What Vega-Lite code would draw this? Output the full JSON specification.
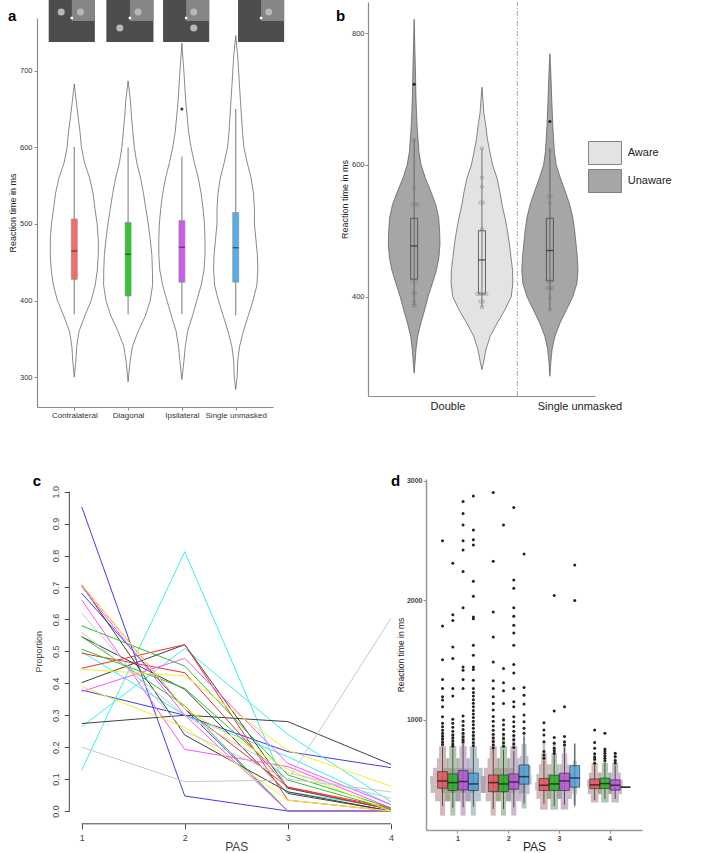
{
  "$schema": "https://vega.github.io/schema/vega-lite/v6.json",
  "background": "white",
  "width": 708,
  "height": 853,
  "autosize": {"type": "none"},
  "padding": 0,
  "resolve": {
    "scale": {"x": "independent", "y": "independent", "fill": "independent", "stroke": "independent", "size": "independent", "xOffset": "independent"},
    "axis": {"x": "independent", "y": "independent"},
    "legend": {"fill": "independent"}
  },
  "config": {
    "font": "Liberation Sans",
    "view": {"stroke": null},
    "axis": {"grid": false, "labelColor": "#333", "titleColor": "#222", "titleFontWeight": "normal", "domainColor": "#8c8c8c", "tickColor": "#8c8c8c"},
    "legend": {"labelColor": "#222", "titleColor": "#222", "titleFontWeight": "normal"}
  },
  "layer": [
    {
      "layer": [
        {
          "data": {"values": [
            {"c":"Contralateral","rt":683,"lo":1,"hi":1},
            {"c":"Contralateral","rt":660,"lo":0.964,"hi":1.036},
            {"c":"Contralateral","rt":640,"lo":0.929,"hi":1.071},
            {"c":"Contralateral","rt":620,"lo":0.893,"hi":1.107},
            {"c":"Contralateral","rt":600,"lo":0.866,"hi":1.134},
            {"c":"Contralateral","rt":580,"lo":0.811,"hi":1.189},
            {"c":"Contralateral","rt":560,"lo":0.714,"hi":1.286},
            {"c":"Contralateral","rt":540,"lo":0.652,"hi":1.348},
            {"c":"Contralateral","rt":520,"lo":0.616,"hi":1.384},
            {"c":"Contralateral","rt":500,"lo":0.575,"hi":1.425},
            {"c":"Contralateral","rt":480,"lo":0.554,"hi":1.446},
            {"c":"Contralateral","rt":460,"lo":0.554,"hi":1.446},
            {"c":"Contralateral","rt":440,"lo":0.571,"hi":1.429},
            {"c":"Contralateral","rt":420,"lo":0.612,"hi":1.388},
            {"c":"Contralateral","rt":400,"lo":0.687,"hi":1.313},
            {"c":"Contralateral","rt":380,"lo":0.804,"hi":1.196},
            {"c":"Contralateral","rt":360,"lo":0.911,"hi":1.089},
            {"c":"Contralateral","rt":340,"lo":0.955,"hi":1.045},
            {"c":"Contralateral","rt":320,"lo":0.973,"hi":1.027},
            {"c":"Contralateral","rt":300,"lo":1,"hi":1},
            {"c":"Diagonal","rt":687,"lo":2,"hi":2},
            {"c":"Diagonal","rt":660,"lo":1.955,"hi":2.045},
            {"c":"Diagonal","rt":640,"lo":1.937,"hi":2.063},
            {"c":"Diagonal","rt":620,"lo":1.911,"hi":2.089},
            {"c":"Diagonal","rt":600,"lo":1.884,"hi":2.116},
            {"c":"Diagonal","rt":580,"lo":1.839,"hi":2.161},
            {"c":"Diagonal","rt":560,"lo":1.768,"hi":2.232},
            {"c":"Diagonal","rt":540,"lo":1.714,"hi":2.286},
            {"c":"Diagonal","rt":520,"lo":1.67,"hi":2.33},
            {"c":"Diagonal","rt":500,"lo":1.625,"hi":2.375},
            {"c":"Diagonal","rt":480,"lo":1.589,"hi":2.411},
            {"c":"Diagonal","rt":460,"lo":1.559,"hi":2.441},
            {"c":"Diagonal","rt":440,"lo":1.548,"hi":2.452},
            {"c":"Diagonal","rt":420,"lo":1.545,"hi":2.455},
            {"c":"Diagonal","rt":400,"lo":1.589,"hi":2.411},
            {"c":"Diagonal","rt":380,"lo":1.679,"hi":2.321},
            {"c":"Diagonal","rt":360,"lo":1.812,"hi":2.188},
            {"c":"Diagonal","rt":340,"lo":1.92,"hi":2.08},
            {"c":"Diagonal","rt":320,"lo":1.964,"hi":2.036},
            {"c":"Diagonal","rt":294,"lo":2,"hi":2},
            {"c":"Ipsilateral","rt":736,"lo":3,"hi":3},
            {"c":"Ipsilateral","rt":700,"lo":2.964,"hi":3.036},
            {"c":"Ipsilateral","rt":680,"lo":2.946,"hi":3.054},
            {"c":"Ipsilateral","rt":660,"lo":2.929,"hi":3.071},
            {"c":"Ipsilateral","rt":640,"lo":2.902,"hi":3.098},
            {"c":"Ipsilateral","rt":620,"lo":2.875,"hi":3.125},
            {"c":"Ipsilateral","rt":600,"lo":2.83,"hi":3.17},
            {"c":"Ipsilateral","rt":580,"lo":2.768,"hi":3.232},
            {"c":"Ipsilateral","rt":560,"lo":2.696,"hi":3.304},
            {"c":"Ipsilateral","rt":540,"lo":2.643,"hi":3.357},
            {"c":"Ipsilateral","rt":520,"lo":2.607,"hi":3.393},
            {"c":"Ipsilateral","rt":500,"lo":2.58,"hi":3.42},
            {"c":"Ipsilateral","rt":480,"lo":2.571,"hi":3.429},
            {"c":"Ipsilateral","rt":460,"lo":2.571,"hi":3.429},
            {"c":"Ipsilateral","rt":440,"lo":2.589,"hi":3.411},
            {"c":"Ipsilateral","rt":420,"lo":2.643,"hi":3.357},
            {"c":"Ipsilateral","rt":400,"lo":2.723,"hi":3.277},
            {"c":"Ipsilateral","rt":380,"lo":2.804,"hi":3.196},
            {"c":"Ipsilateral","rt":360,"lo":2.893,"hi":3.107},
            {"c":"Ipsilateral","rt":340,"lo":2.937,"hi":3.063},
            {"c":"Ipsilateral","rt":320,"lo":2.964,"hi":3.036},
            {"c":"Ipsilateral","rt":297,"lo":3,"hi":3},
            {"c":"Single unmasked","rt":746,"lo":4,"hi":4},
            {"c":"Single unmasked","rt":720,"lo":3.964,"hi":4.036},
            {"c":"Single unmasked","rt":700,"lo":3.946,"hi":4.054},
            {"c":"Single unmasked","rt":680,"lo":3.929,"hi":4.071},
            {"c":"Single unmasked","rt":660,"lo":3.911,"hi":4.089},
            {"c":"Single unmasked","rt":640,"lo":3.893,"hi":4.107},
            {"c":"Single unmasked","rt":620,"lo":3.875,"hi":4.125},
            {"c":"Single unmasked","rt":600,"lo":3.848,"hi":4.152},
            {"c":"Single unmasked","rt":580,"lo":3.786,"hi":4.214},
            {"c":"Single unmasked","rt":560,"lo":3.714,"hi":4.286},
            {"c":"Single unmasked","rt":540,"lo":3.67,"hi":4.33},
            {"c":"Single unmasked","rt":520,"lo":3.652,"hi":4.348},
            {"c":"Single unmasked","rt":500,"lo":3.652,"hi":4.348},
            {"c":"Single unmasked","rt":480,"lo":3.625,"hi":4.375},
            {"c":"Single unmasked","rt":460,"lo":3.598,"hi":4.402},
            {"c":"Single unmasked","rt":440,"lo":3.589,"hi":4.411},
            {"c":"Single unmasked","rt":420,"lo":3.607,"hi":4.393},
            {"c":"Single unmasked","rt":400,"lo":3.679,"hi":4.321},
            {"c":"Single unmasked","rt":380,"lo":3.768,"hi":4.232},
            {"c":"Single unmasked","rt":360,"lo":3.857,"hi":4.143},
            {"c":"Single unmasked","rt":340,"lo":3.929,"hi":4.071},
            {"c":"Single unmasked","rt":320,"lo":3.964,"hi":4.036},
            {"c":"Single unmasked","rt":300,"lo":3.973,"hi":4.027},
            {"c":"Single unmasked","rt":284,"lo":4,"hi":4}
          ]},
          "mark": {"type": "area", "orient": "horizontal", "fill": "white", "stroke": "#6b6b6b", "strokeWidth": 0.8},
          "encoding": {
            "y": {"field": "rt", "type": "quantitative", "scale": {"domain": [261, 769], "range": [407, 18], "nice": false, "zero": false},
              "axis": {"orient": "left", "offset": -37, "values": [300, 400, 500, 600, 700], "title": "Reaction time in ms", "titleFontSize": 9, "titlePadding": 2, "labelFontSize": 7.5, "tickSize": 3, "labelPadding": 2, "domainWidth": 1.2}},
            "x": {"field": "lo", "type": "quantitative", "scale": {"domain": [0.4, 4.6], "range": [37, 273], "nice": false, "zero": false},
              "axis": {"orient": "bottom", "offset": -446, "values": [1, 2, 3, 4], "labelExpr": "['', 'Contralateral', 'Diagonal', 'Ipsilateral', 'Single unmasked'][datum.value]", "title": null, "tickSize": 3, "labelFontSize": 8, "labelPadding": 1, "domainWidth": 1.2}},
            "x2": {"field": "hi"},
            "detail": {"field": "c"}
          }
        },
        {
          "data": {"values": [
            {"cond":"Contralateral","pos":1,"wlo":382,"q1":427.7,"med":464.7,"q3":506.5,"whi":600.6},
            {"cond":"Diagonal","pos":2,"wlo":382,"q1":405.9,"med":460.4,"q3":502,"whi":600},
            {"cond":"Ipsilateral","pos":3,"wlo":382,"q1":423.9,"med":469.5,"q3":504.4,"whi":588},
            {"cond":"Single unmasked","pos":4,"wlo":380.7,"q1":424,"med":469,"q3":515,"whi":650}
          ]},
          "layer": [
            {
              "mark": {"type": "rule", "stroke": "#8f8f8f", "strokeWidth": 1.2},
              "encoding": {"x": {"field": "pos", "type": "quantitative"}, "y": {"field": "wlo", "type": "quantitative"}, "y2": {"field": "whi"}}
            },
            {
              "mark": {"type": "bar", "orient": "vertical", "size": 6, "stroke": "#8a8a8a", "strokeWidth": 0.6},
              "encoding": {
                "x": {"field": "pos", "type": "quantitative"},
                "y": {"field": "q1", "type": "quantitative"},
                "y2": {"field": "q3"},
                "fill": {"field": "cond", "type": "nominal", "scale": {"domain": ["Contralateral", "Diagonal", "Ipsilateral", "Single unmasked"], "range": ["#F86A6A", "#33C433", "#CC5BEE", "#55AEE5"]}, "legend": null}
              }
            },
            {
              "mark": {"type": "tick", "orient": "horizontal", "size": 6, "thickness": 1.4, "color": "#333"},
              "encoding": {"x": {"field": "pos", "type": "quantitative"}, "y": {"field": "med", "type": "quantitative"}}
            }
          ]
        },
        {
          "data": {"values": [{"pos": 3, "rt": 650}]},
          "mark": {"type": "point", "filled": true, "size": 9, "color": "#333", "opacity": 1},
          "encoding": {"x": {"field": "pos", "type": "quantitative"}, "y": {"field": "rt", "type": "quantitative"}}
        },
        {
          "data": {"values": [{"x0":0.525,"x1":1.382},{"x0":1.596,"x1":2.471},{"x0":2.65,"x1":3.507},{"x0":4.043,"x1":4.9}]},
          "mark": {"type": "rect", "fill": "#4d4d4d"},
          "encoding": {
            "x": {"field": "x0", "type": "quantitative", "scale": {"domain": [0.4, 4.6], "range": [37, 273], "nice": false, "zero": false}},
            "x2": {"field": "x1"},
            "y": {"datum": 737.7, "scale": {"domain": [261, 769], "range": [407, 18], "nice": false, "zero": false}},
            "y2": {"datum": 792.5}
          }
        },
        {
          "data": {"values": [{"x0":0.954,"x1":1.382},{"x0":2.034,"x1":2.471},{"x0":3.079,"x1":3.507},{"x0":4.471,"x1":4.9}]},
          "mark": {"type": "rect", "fill": "#858585"},
          "encoding": {
            "x": {"field": "x0", "type": "quantitative", "scale": {"domain": [0.4, 4.6], "range": [37, 273], "nice": false, "zero": false}},
            "x2": {"field": "x1"},
            "y": {"datum": 765.1, "scale": {"domain": [261, 769], "range": [407, 18], "nice": false, "zero": false}},
            "y2": {"datum": 792.5}
          }
        },
        {
          "data": {"values": [{"x":0.757,"y":776.8},{"x":1.114,"y":776.8},{"x":1.846,"y":755.9},{"x":2.186,"y":776.8},{"x":3.221,"y":776.8},{"x":3.221,"y":755.9},{"x":4.614,"y":776.8}]},
          "mark": {"type": "point", "shape": "circle", "filled": true, "size": 50, "color": "#b8b8b8", "opacity": 1},
          "encoding": {
            "x": {"field": "x", "type": "quantitative", "scale": {"domain": [0.4, 4.6], "range": [37, 273], "nice": false, "zero": false}},
            "y": {"field": "y", "type": "quantitative", "scale": {"domain": [261, 769], "range": [407, 18], "nice": false, "zero": false}}
          }
        },
        {
          "data": {"values": [{"x":0.954,"y":769},{"x":2.034,"y":769},{"x":3.079,"y":769},{"x":4.471,"y":769}]},
          "mark": {"type": "point", "shape": "square", "filled": true, "size": 6, "color": "#ffffff", "opacity": 1},
          "encoding": {
            "x": {"field": "x", "type": "quantitative", "scale": {"domain": [0.4, 4.6], "range": [37, 273], "nice": false, "zero": false}},
            "y": {"field": "y", "type": "quantitative", "scale": {"domain": [261, 769], "range": [407, 18], "nice": false, "zero": false}}
          }
        },
        {
          "data": {"values": [{"t": "a", "x": -0.154, "y": 765}]},
          "mark": {"type": "text", "fontSize": 15, "fontWeight": "bold", "align": "center", "baseline": "alphabetic", "color": "#000"},
          "encoding": {
            "x": {"field": "x", "type": "quantitative", "scale": {"domain": [0.4, 4.6], "range": [37, 273], "nice": false, "zero": false}},
            "y": {"field": "y", "type": "quantitative", "scale": {"domain": [261, 769], "range": [407, 18], "nice": false, "zero": false}},
            "text": {"field": "t"}
          }
        }
      ]
    },
    {
      "layer": [
        {
          "data": {"values": [
            {"v":"du","aw":"Unaware","rt":821,"lo":0.747,"hi":0.747},
            {"v":"du","aw":"Unaware","rt":780,"lo":0.742,"hi":0.752},
            {"v":"du","aw":"Unaware","rt":740,"lo":0.737,"hi":0.757},
            {"v":"du","aw":"Unaware","rt":700,"lo":0.733,"hi":0.761},
            {"v":"du","aw":"Unaware","rt":660,"lo":0.725,"hi":0.769},
            {"v":"du","aw":"Unaware","rt":620,"lo":0.711,"hi":0.783},
            {"v":"du","aw":"Unaware","rt":600,"lo":0.694,"hi":0.8},
            {"v":"du","aw":"Unaware","rt":580,"lo":0.662,"hi":0.832},
            {"v":"du","aw":"Unaware","rt":560,"lo":0.621,"hi":0.873},
            {"v":"du","aw":"Unaware","rt":540,"lo":0.583,"hi":0.911},
            {"v":"du","aw":"Unaware","rt":520,"lo":0.561,"hi":0.933},
            {"v":"du","aw":"Unaware","rt":500,"lo":0.554,"hi":0.94},
            {"v":"du","aw":"Unaware","rt":480,"lo":0.551,"hi":0.943},
            {"v":"du","aw":"Unaware","rt":460,"lo":0.559,"hi":0.935},
            {"v":"du","aw":"Unaware","rt":440,"lo":0.578,"hi":0.916},
            {"v":"du","aw":"Unaware","rt":420,"lo":0.609,"hi":0.885},
            {"v":"du","aw":"Unaware","rt":400,"lo":0.641,"hi":0.853},
            {"v":"du","aw":"Unaware","rt":380,"lo":0.667,"hi":0.827},
            {"v":"du","aw":"Unaware","rt":360,"lo":0.696,"hi":0.798},
            {"v":"du","aw":"Unaware","rt":340,"lo":0.72,"hi":0.774},
            {"v":"du","aw":"Unaware","rt":320,"lo":0.733,"hi":0.761},
            {"v":"du","aw":"Unaware","rt":300,"lo":0.74,"hi":0.754},
            {"v":"du","aw":"Unaware","rt":284,"lo":0.747,"hi":0.747},
            {"v":"da","aw":"Aware","rt":718,"lo":1.261,"hi":1.261},
            {"v":"da","aw":"Aware","rt":700,"lo":1.254,"hi":1.268},
            {"v":"da","aw":"Aware","rt":680,"lo":1.247,"hi":1.275},
            {"v":"da","aw":"Aware","rt":660,"lo":1.232,"hi":1.29},
            {"v":"da","aw":"Aware","rt":640,"lo":1.22,"hi":1.302},
            {"v":"da","aw":"Aware","rt":620,"lo":1.201,"hi":1.321},
            {"v":"da","aw":"Aware","rt":600,"lo":1.181,"hi":1.341},
            {"v":"da","aw":"Aware","rt":580,"lo":1.147,"hi":1.375},
            {"v":"da","aw":"Aware","rt":560,"lo":1.126,"hi":1.396},
            {"v":"da","aw":"Aware","rt":540,"lo":1.109,"hi":1.413},
            {"v":"da","aw":"Aware","rt":520,"lo":1.087,"hi":1.435},
            {"v":"da","aw":"Aware","rt":500,"lo":1.068,"hi":1.454},
            {"v":"da","aw":"Aware","rt":480,"lo":1.053,"hi":1.469},
            {"v":"da","aw":"Aware","rt":460,"lo":1.041,"hi":1.481},
            {"v":"da","aw":"Aware","rt":440,"lo":1.029,"hi":1.493},
            {"v":"da","aw":"Aware","rt":420,"lo":1.027,"hi":1.495},
            {"v":"da","aw":"Aware","rt":400,"lo":1.039,"hi":1.483},
            {"v":"da","aw":"Aware","rt":380,"lo":1.087,"hi":1.435},
            {"v":"da","aw":"Aware","rt":360,"lo":1.145,"hi":1.377},
            {"v":"da","aw":"Aware","rt":340,"lo":1.198,"hi":1.324},
            {"v":"da","aw":"Aware","rt":320,"lo":1.23,"hi":1.292},
            {"v":"da","aw":"Aware","rt":300,"lo":1.249,"hi":1.273},
            {"v":"da","aw":"Aware","rt":289,"lo":1.261,"hi":1.261},
            {"v":"su","aw":"Unaware","rt":769,"lo":1.776,"hi":1.776},
            {"v":"su","aw":"Unaware","rt":740,"lo":1.769,"hi":1.783},
            {"v":"su","aw":"Unaware","rt":700,"lo":1.762,"hi":1.79},
            {"v":"su","aw":"Unaware","rt":660,"lo":1.754,"hi":1.798},
            {"v":"su","aw":"Unaware","rt":620,"lo":1.742,"hi":1.81},
            {"v":"su","aw":"Unaware","rt":600,"lo":1.728,"hi":1.824},
            {"v":"su","aw":"Unaware","rt":580,"lo":1.696,"hi":1.856},
            {"v":"su","aw":"Unaware","rt":560,"lo":1.66,"hi":1.892},
            {"v":"su","aw":"Unaware","rt":540,"lo":1.626,"hi":1.926},
            {"v":"su","aw":"Unaware","rt":520,"lo":1.602,"hi":1.95},
            {"v":"su","aw":"Unaware","rt":500,"lo":1.588,"hi":1.964},
            {"v":"su","aw":"Unaware","rt":480,"lo":1.578,"hi":1.974},
            {"v":"su","aw":"Unaware","rt":460,"lo":1.568,"hi":1.984},
            {"v":"su","aw":"Unaware","rt":440,"lo":1.563,"hi":1.989},
            {"v":"su","aw":"Unaware","rt":420,"lo":1.571,"hi":1.981},
            {"v":"su","aw":"Unaware","rt":400,"lo":1.602,"hi":1.95},
            {"v":"su","aw":"Unaware","rt":380,"lo":1.65,"hi":1.902},
            {"v":"su","aw":"Unaware","rt":360,"lo":1.699,"hi":1.853},
            {"v":"su","aw":"Unaware","rt":340,"lo":1.737,"hi":1.815},
            {"v":"su","aw":"Unaware","rt":320,"lo":1.759,"hi":1.793},
            {"v":"su","aw":"Unaware","rt":300,"lo":1.769,"hi":1.783},
            {"v":"su","aw":"Unaware","rt":279,"lo":1.776,"hi":1.776}
          ]},
          "mark": {"type": "area", "orient": "horizontal", "stroke": "#555", "strokeWidth": 0.7, "opacity": 1},
          "encoding": {
            "y": {"field": "rt", "type": "quantitative", "scale": {"domain": [249, 847.5], "range": [396, 2], "nice": false, "zero": false},
              "axis": {"orient": "left", "offset": -368, "values": [400, 600, 800], "title": "Reaction time in ms", "titleFontSize": 9, "titlePadding": 2, "labelFontSize": 7.5, "tickSize": 3, "labelPadding": 1, "domainWidth": 1.2}},
            "x": {"field": "lo", "type": "quantitative", "scale": {"domain": [0.435, 2.08], "range": [368, 595], "nice": false, "zero": false},
              "axis": {"orient": "bottom", "offset": -457, "values": [1, 2], "labelExpr": "datum.value == 1 ? 'Double' : 'Single unmasked'", "title": null, "ticks": false, "labelFontSize": 11, "labelPadding": 4, "domainWidth": 1.2, "labelColor": "#222"}},
            "x2": {"field": "hi"},
            "detail": {"field": "v"},
            "fill": {"field": "aw", "type": "nominal", "scale": {"domain": ["Aware", "Unaware"], "range": ["#E3E3E3", "#A6A6A6"]},
              "legend": {"title": null, "orient": "none", "legendX": 593, "legendY": 141, "padding": 0, "symbolType": "M-1.43,-1H1.43V1H-1.43Z", "symbolSize": 529, "symbolStrokeColor": "#666", "symbolStrokeWidth": 0.8, "symbolOpacity": 1, "labelFontSize": 11, "labelOffset": 10.7, "rowPadding": 0}}
          }
        },
        {
          "data": {"values": [{}]},
          "mark": {"type": "rule", "stroke": "#8e9db0", "strokeWidth": 0.9, "strokeDash": [5, 2, 1, 2]},
          "encoding": {"x": {"datum": 1.529}, "y": {"datum": 249}, "y2": {"datum": 847.5}}
        },
        {
          "data": {"values": [
            {"pos":0.747,"wlo":387,"q1":426.4,"med":477,"q3":519,"whi":638},
            {"pos":1.261,"wlo":384,"q1":404,"med":455.7,"q3":500,"whi":625},
            {"pos":1.776,"wlo":380,"q1":424,"med":470,"q3":519,"whi":623}
          ]},
          "layer": [
            {
              "mark": {"type": "rule", "stroke": "#555", "strokeWidth": 0.8},
              "encoding": {"x": {"field": "pos", "type": "quantitative"}, "y": {"field": "wlo", "type": "quantitative"}, "y2": {"field": "whi"}}
            },
            {
              "mark": {"type": "bar", "orient": "vertical", "size": 7, "fill": "transparent", "stroke": "#444", "strokeWidth": 0.8},
              "encoding": {"x": {"field": "pos", "type": "quantitative"}, "y": {"field": "q1", "type": "quantitative"}, "y2": {"field": "q3"}}
            },
            {
              "mark": {"type": "tick", "orient": "horizontal", "size": 7, "thickness": 1.3, "color": "#222"},
              "encoding": {"x": {"field": "pos", "type": "quantitative"}, "y": {"field": "med", "type": "quantitative"}}
            }
          ]
        },
        {
          "data": {"values": [
            {"x":0.747,"rt":638},{"x":0.747,"rt":564.6},{"x":0.735,"rt":540},{"x":0.754,"rt":540},{"x":0.771,"rt":540},
            {"x":0.735,"rt":424},{"x":0.759,"rt":424},{"x":0.74,"rt":405},{"x":0.754,"rt":405},{"x":0.747,"rt":392.5},
            {"x":0.742,"rt":386},{"x":0.754,"rt":386},
            {"x":1.261,"rt":625.3},{"x":1.261,"rt":580.8},{"x":1.261,"rt":567},{"x":1.249,"rt":542.8},{"x":1.268,"rt":542.8},
            {"x":1.261,"rt":502.3},{"x":1.225,"rt":404},{"x":1.247,"rt":404},{"x":1.271,"rt":404},{"x":1.295,"rt":404},
            {"x":1.249,"rt":392.5},{"x":1.268,"rt":392.5},{"x":1.261,"rt":384},
            {"x":1.776,"rt":622.8},{"x":1.766,"rt":552},{"x":1.783,"rt":552},{"x":1.776,"rt":541.8},{"x":1.762,"rt":423},
            {"x":1.786,"rt":423},{"x":1.759,"rt":412.7},{"x":1.776,"rt":412.7},{"x":1.793,"rt":412.7},{"x":1.776,"rt":397.5},
            {"x":1.776,"rt":379.8}
          ]},
          "mark": {"type": "point", "shape": "circle", "filled": false, "size": 10, "stroke": "#777", "strokeWidth": 0.6, "opacity": 0.85},
          "encoding": {"x": {"field": "x", "type": "quantitative"}, "y": {"field": "rt", "type": "quantitative"}}
        },
        {
          "data": {"values": [{"x": 0.747, "rt": 722.5}, {"x": 1.776, "rt": 666}]},
          "mark": {"type": "point", "filled": true, "size": 10, "color": "#222", "opacity": 1},
          "encoding": {"x": {"field": "x", "type": "quantitative"}, "y": {"field": "rt", "type": "quantitative"}}
        },
        {
          "data": {"values": [{"t": "b", "x": 0.189, "y": 818.6}]},
          "mark": {"type": "text", "fontSize": 15, "fontWeight": "bold", "align": "center", "baseline": "alphabetic", "color": "#000"},
          "encoding": {
            "x": {"field": "x", "type": "quantitative", "scale": {"domain": [0.435, 2.08], "range": [368, 595], "nice": false, "zero": false}},
            "y": {"field": "y", "type": "quantitative", "scale": {"domain": [249, 847.5], "range": [396, 2], "nice": false, "zero": false}},
            "text": {"field": "t"}
          }
        }
      ]
    },
    {
      "layer": [
        {
          "data": {"values": [
            {"id":1,"col":"blue","pas":1,"p":0.953},{"id":1,"col":"blue","pas":2,"p":0.047},{"id":1,"col":"blue","pas":3,"p":0},{"id":1,"col":"blue","pas":4,"p":0},
            {"id":2,"col":"blue","pas":1,"p":0.379},{"id":2,"col":"blue","pas":2,"p":0.3},{"id":2,"col":"blue","pas":3,"p":0.186},{"id":2,"col":"blue","pas":4,"p":0.136},
            {"id":3,"col":"blue","pas":1,"p":0.682},{"id":3,"col":"blue","pas":2,"p":0.32},{"id":3,"col":"blue","pas":3,"p":0},{"id":3,"col":"blue","pas":4,"p":0},
            {"id":4,"col":"cyan","pas":1,"p":0.128},{"id":4,"col":"cyan","pas":2,"p":0.812},{"id":4,"col":"cyan","pas":3,"p":0.06},{"id":4,"col":"cyan","pas":4,"p":0.01},
            {"id":5,"col":"cyan","pas":1,"p":0.264},{"id":5,"col":"cyan","pas":2,"p":0.509},{"id":5,"col":"cyan","pas":3,"p":0.24},{"id":5,"col":"cyan","pas":4,"p":0.029},
            {"id":6,"col":"cyan","pas":1,"p":0.499},{"id":6,"col":"cyan","pas":2,"p":0.3},{"id":6,"col":"cyan","pas":3,"p":0.17},{"id":6,"col":"cyan","pas":4,"p":0.02},
            {"id":7,"col":"black","pas":1,"p":0.274},{"id":7,"col":"black","pas":2,"p":0.3},{"id":7,"col":"black","pas":3,"p":0.28},{"id":7,"col":"black","pas":4,"p":0.146},
            {"id":8,"col":"black","pas":1,"p":0.708},{"id":8,"col":"black","pas":2,"p":0.238},{"id":8,"col":"black","pas":3,"p":0.06},{"id":8,"col":"black","pas":4,"p":0},
            {"id":9,"col":"black","pas":1,"p":0.402},{"id":9,"col":"black","pas":2,"p":0.521},{"id":9,"col":"black","pas":3,"p":0.071},{"id":9,"col":"black","pas":4,"p":0.005},
            {"id":10,"col":"black","pas":1,"p":0.546},{"id":10,"col":"black","pas":2,"p":0.381},{"id":10,"col":"black","pas":3,"p":0.055},{"id":10,"col":"black","pas":4,"p":0},
            {"id":11,"col":"red","pas":1,"p":0.494},{"id":11,"col":"red","pas":2,"p":0.433},{"id":11,"col":"red","pas":3,"p":0.074},{"id":11,"col":"red","pas":4,"p":0.005},
            {"id":12,"col":"red","pas":1,"p":0.447},{"id":12,"col":"red","pas":2,"p":0.521},{"id":12,"col":"red","pas":3,"p":0.034},{"id":12,"col":"red","pas":4,"p":0},
            {"id":13,"col":"red","pas":1,"p":0.708},{"id":13,"col":"red","pas":2,"p":0.32},{"id":13,"col":"red","pas":3,"p":0.075},{"id":13,"col":"red","pas":4,"p":0.01},
            {"id":14,"col":"green","pas":1,"p":0.58},{"id":14,"col":"green","pas":2,"p":0.454},{"id":14,"col":"green","pas":3,"p":0.113},{"id":14,"col":"green","pas":4,"p":0.01},
            {"id":15,"col":"green","pas":1,"p":0.507},{"id":15,"col":"green","pas":2,"p":0.384},{"id":15,"col":"green","pas":3,"p":0.097},{"id":15,"col":"green","pas":4,"p":0.005},
            {"id":16,"col":"green","pas":1,"p":0.546},{"id":16,"col":"green","pas":2,"p":0.33},{"id":16,"col":"green","pas":3,"p":0},{"id":16,"col":"green","pas":4,"p":0},
            {"id":17,"col":"magenta","pas":1,"p":0.661},{"id":17,"col":"magenta","pas":2,"p":0.193},{"id":17,"col":"magenta","pas":3,"p":0.139},{"id":17,"col":"magenta","pas":4,"p":0.01},
            {"id":18,"col":"magenta","pas":1,"p":0.374},{"id":18,"col":"magenta","pas":2,"p":0.478},{"id":18,"col":"magenta","pas":3,"p":0.149},{"id":18,"col":"magenta","pas":4,"p":0.02},
            {"id":19,"col":"magenta","pas":1,"p":0.703},{"id":19,"col":"magenta","pas":2,"p":0.3},{"id":19,"col":"magenta","pas":3,"p":0},{"id":19,"col":"magenta","pas":4,"p":0},
            {"id":20,"col":"yellow","pas":1,"p":0.444},{"id":20,"col":"yellow","pas":2,"p":0.423},{"id":20,"col":"yellow","pas":3,"p":0.19},{"id":20,"col":"yellow","pas":4,"p":0.078},
            {"id":21,"col":"yellow","pas":1,"p":0.39},{"id":21,"col":"yellow","pas":2,"p":0.262},{"id":21,"col":"yellow","pas":3,"p":0.034},{"id":21,"col":"yellow","pas":4,"p":0},
            {"id":22,"col":"yellow","pas":1,"p":0.708},{"id":22,"col":"yellow","pas":2,"p":0.32},{"id":22,"col":"yellow","pas":3,"p":0.13},{"id":22,"col":"yellow","pas":4,"p":0},
            {"id":23,"col":"gray","pas":1,"p":0.2},{"id":23,"col":"gray","pas":2,"p":0.092},{"id":23,"col":"gray","pas":3,"p":0.097},{"id":23,"col":"gray","pas":4,"p":0.603},
            {"id":24,"col":"gray","pas":1,"p":0.619},{"id":24,"col":"gray","pas":2,"p":0.25},{"id":24,"col":"gray","pas":3,"p":0.1},{"id":24,"col":"gray","pas":4,"p":0.06},
            {"id":25,"col":"gray","pas":1,"p":0.56},{"id":25,"col":"gray","pas":2,"p":0.3},{"id":25,"col":"gray","pas":3,"p":0.12},{"id":25,"col":"gray","pas":4,"p":0.04}
          ]},
          "mark": {"type": "line", "strokeWidth": 1},
          "encoding": {
            "x": {"field": "pas", "type": "quantitative", "scale": {"domain": [0.88, 4.12], "range": [69.3, 403.3], "nice": false, "zero": false},
              "axis": {"orient": "bottom", "offset": -29.2, "values": [1, 2, 3, 4], "format": "d", "domain": false, "tickSize": 5, "tickColor": "#444", "labelColor": "#444", "labelFontSize": 9, "labelPadding": 5, "title": "PAS", "titleFontSize": 12, "titleY": 26.2, "titleBaseline": "alphabetic", "titleColor": "#444"}},
            "y": {"field": "p", "type": "quantitative", "scale": {"domain": [-0.04, 1.04], "range": [823.8, 478.9], "nice": false, "zero": false},
              "axis": {"orient": "left", "offset": -69.3, "values": [0, 0.1, 0.2, 0.3, 0.4, 0.5, 0.6, 0.7, 0.8, 0.9, 1], "format": ".1f", "labelOverlap": false, "domain": false, "tickSize": 5, "tickColor": "#444", "labelColor": "#444", "labelFontSize": 9, "labelAngle": -90, "labelAlign": "center", "labelBaseline": "bottom", "labelPadding": 4, "title": "Proportion", "titleFontSize": 9, "titlePadding": 8, "titleColor": "#444"}},
            "stroke": {"field": "col", "type": "nominal", "scale": {"domain": ["black", "red", "green", "blue", "cyan", "magenta", "yellow", "gray"], "range": ["#404040", "#F03030", "#30C030", "#3C3CF0", "#3CECEC", "#FF50FF", "#F2F030", "#C8C8C8"]}, "legend": null},
            "detail": {"field": "id"}
          }
        },
        {
          "data": {"values": [{}]},
          "mark": {"type": "rule", "stroke": "#444", "strokeWidth": 1},
          "encoding": {"x": {"datum": 1}, "x2": {"datum": 4}, "y": {"datum": -0.04}}
        },
        {
          "data": {"values": [{}]},
          "mark": {"type": "rule", "stroke": "#444", "strokeWidth": 1},
          "encoding": {"x": {"datum": 0.88}, "y": {"datum": 0}, "y2": {"datum": 1}}
        },
        {
          "data": {"values": [{"t": "c", "x": 0.567, "y": 1.018}, {"t": "d", "x": 4.044, "y": 1.018}]},
          "mark": {"type": "text", "fontSize": 15, "fontWeight": "bold", "align": "center", "baseline": "alphabetic", "color": "#000"},
          "encoding": {
            "x": {"field": "x", "type": "quantitative", "scale": {"domain": [0.88, 4.12], "range": [69.3, 403.3], "nice": false, "zero": false}},
            "y": {"field": "y", "type": "quantitative", "scale": {"domain": [-0.04, 1.04], "range": [823.8, 478.9], "nice": false, "zero": false}},
            "text": {"field": "t"}
          }
        }
      ]
    },
    {
      "layer": [
        {
          "data": {"values": [
            {"p":"1","c":"Contralateral","lo":200,"hi":320,"n":0.2},{"p":"1","c":"Contralateral","lo":320,"hi":390,"n":0.6},{"p":"1","c":"Contralateral","lo":390,"hi":460,"n":0.95},{"p":"1","c":"Contralateral","lo":460,"hi":530,"n":1},{"p":"1","c":"Contralateral","lo":530,"hi":600,"n":0.75},{"p":"1","c":"Contralateral","lo":600,"hi":680,"n":0.45},{"p":"1","c":"Contralateral","lo":680,"hi":780,"n":0.28},{"p":"1","c":"Contralateral","lo":780,"hi":890,"n":0.12},
            {"p":"1","c":"Diagonal","lo":200,"hi":320,"n":0.2},{"p":"1","c":"Diagonal","lo":320,"hi":390,"n":0.6},{"p":"1","c":"Diagonal","lo":390,"hi":460,"n":0.95},{"p":"1","c":"Diagonal","lo":460,"hi":530,"n":1},{"p":"1","c":"Diagonal","lo":530,"hi":600,"n":0.75},{"p":"1","c":"Diagonal","lo":600,"hi":680,"n":0.45},{"p":"1","c":"Diagonal","lo":680,"hi":780,"n":0.28},{"p":"1","c":"Diagonal","lo":780,"hi":890,"n":0.12},
            {"p":"1","c":"Ipsilateral","lo":200,"hi":320,"n":0.2},{"p":"1","c":"Ipsilateral","lo":320,"hi":390,"n":0.6},{"p":"1","c":"Ipsilateral","lo":390,"hi":460,"n":0.95},{"p":"1","c":"Ipsilateral","lo":460,"hi":530,"n":1},{"p":"1","c":"Ipsilateral","lo":530,"hi":600,"n":0.75},{"p":"1","c":"Ipsilateral","lo":600,"hi":680,"n":0.45},{"p":"1","c":"Ipsilateral","lo":680,"hi":780,"n":0.28},{"p":"1","c":"Ipsilateral","lo":780,"hi":890,"n":0.12},
            {"p":"1","c":"Single unmasked","lo":200,"hi":320,"n":0.2},{"p":"1","c":"Single unmasked","lo":320,"hi":390,"n":0.6},{"p":"1","c":"Single unmasked","lo":390,"hi":460,"n":0.95},{"p":"1","c":"Single unmasked","lo":460,"hi":530,"n":1},{"p":"1","c":"Single unmasked","lo":530,"hi":600,"n":0.75},{"p":"1","c":"Single unmasked","lo":600,"hi":680,"n":0.45},{"p":"1","c":"Single unmasked","lo":680,"hi":780,"n":0.28},{"p":"1","c":"Single unmasked","lo":780,"hi":890,"n":0.12},
            {"p":"2","c":"Contralateral","lo":200,"hi":320,"n":0.2},{"p":"2","c":"Contralateral","lo":320,"hi":390,"n":0.6},{"p":"2","c":"Contralateral","lo":390,"hi":460,"n":0.95},{"p":"2","c":"Contralateral","lo":460,"hi":530,"n":1},{"p":"2","c":"Contralateral","lo":530,"hi":600,"n":0.75},{"p":"2","c":"Contralateral","lo":600,"hi":680,"n":0.45},{"p":"2","c":"Contralateral","lo":680,"hi":780,"n":0.28},{"p":"2","c":"Contralateral","lo":780,"hi":880,"n":0.12},
            {"p":"2","c":"Diagonal","lo":200,"hi":320,"n":0.2},{"p":"2","c":"Diagonal","lo":320,"hi":390,"n":0.6},{"p":"2","c":"Diagonal","lo":390,"hi":460,"n":0.95},{"p":"2","c":"Diagonal","lo":460,"hi":530,"n":1},{"p":"2","c":"Diagonal","lo":530,"hi":600,"n":0.75},{"p":"2","c":"Diagonal","lo":600,"hi":680,"n":0.45},{"p":"2","c":"Diagonal","lo":680,"hi":780,"n":0.28},{"p":"2","c":"Diagonal","lo":780,"hi":880,"n":0.12},
            {"p":"2","c":"Ipsilateral","lo":200,"hi":320,"n":0.2},{"p":"2","c":"Ipsilateral","lo":320,"hi":390,"n":0.6},{"p":"2","c":"Ipsilateral","lo":390,"hi":460,"n":0.95},{"p":"2","c":"Ipsilateral","lo":460,"hi":530,"n":1},{"p":"2","c":"Ipsilateral","lo":530,"hi":600,"n":0.75},{"p":"2","c":"Ipsilateral","lo":600,"hi":680,"n":0.45},{"p":"2","c":"Ipsilateral","lo":680,"hi":780,"n":0.28},{"p":"2","c":"Ipsilateral","lo":780,"hi":880,"n":0.12},
            {"p":"2","c":"Single unmasked","lo":260,"hi":380,"n":0.2},{"p":"2","c":"Single unmasked","lo":380,"hi":460,"n":0.45},{"p":"2","c":"Single unmasked","lo":460,"hi":540,"n":0.6},{"p":"2","c":"Single unmasked","lo":540,"hi":620,"n":0.55},{"p":"2","c":"Single unmasked","lo":620,"hi":700,"n":0.35},{"p":"2","c":"Single unmasked","lo":700,"hi":800,"n":0.2},{"p":"2","c":"Single unmasked","lo":800,"hi":880,"n":0.08},
            {"p":"3","c":"Contralateral","lo":250,"hi":340,"n":0.3},{"p":"3","c":"Contralateral","lo":340,"hi":410,"n":0.6},{"p":"3","c":"Contralateral","lo":410,"hi":480,"n":0.7},{"p":"3","c":"Contralateral","lo":480,"hi":550,"n":0.6},{"p":"3","c":"Contralateral","lo":550,"hi":630,"n":0.4},{"p":"3","c":"Contralateral","lo":630,"hi":720,"n":0.22},{"p":"3","c":"Contralateral","lo":720,"hi":820,"n":0.1},
            {"p":"3","c":"Diagonal","lo":250,"hi":340,"n":0.3},{"p":"3","c":"Diagonal","lo":340,"hi":410,"n":0.6},{"p":"3","c":"Diagonal","lo":410,"hi":480,"n":0.7},{"p":"3","c":"Diagonal","lo":480,"hi":550,"n":0.6},{"p":"3","c":"Diagonal","lo":550,"hi":630,"n":0.4},{"p":"3","c":"Diagonal","lo":630,"hi":720,"n":0.22},{"p":"3","c":"Diagonal","lo":720,"hi":820,"n":0.1},
            {"p":"3","c":"Ipsilateral","lo":250,"hi":340,"n":0.3},{"p":"3","c":"Ipsilateral","lo":340,"hi":410,"n":0.6},{"p":"3","c":"Ipsilateral","lo":410,"hi":480,"n":0.7},{"p":"3","c":"Ipsilateral","lo":480,"hi":550,"n":0.6},{"p":"3","c":"Ipsilateral","lo":550,"hi":630,"n":0.4},{"p":"3","c":"Ipsilateral","lo":630,"hi":720,"n":0.22},{"p":"3","c":"Ipsilateral","lo":720,"hi":820,"n":0.1},
            {"p":"3","c":"Single unmasked","lo":290,"hi":380,"n":0.1},{"p":"3","c":"Single unmasked","lo":380,"hi":470,"n":0.18},{"p":"3","c":"Single unmasked","lo":470,"hi":560,"n":0.2},{"p":"3","c":"Single unmasked","lo":560,"hi":660,"n":0.15},{"p":"3","c":"Single unmasked","lo":660,"hi":800,"n":0.07},
            {"p":"4","c":"Contralateral","lo":310,"hi":380,"n":0.3},{"p":"4","c":"Contralateral","lo":380,"hi":440,"n":0.55},{"p":"4","c":"Contralateral","lo":440,"hi":500,"n":0.6},{"p":"4","c":"Contralateral","lo":500,"hi":560,"n":0.45},{"p":"4","c":"Contralateral","lo":560,"hi":640,"n":0.25},{"p":"4","c":"Contralateral","lo":640,"hi":720,"n":0.1},
            {"p":"4","c":"Diagonal","lo":310,"hi":380,"n":0.3},{"p":"4","c":"Diagonal","lo":380,"hi":440,"n":0.55},{"p":"4","c":"Diagonal","lo":440,"hi":500,"n":0.6},{"p":"4","c":"Diagonal","lo":500,"hi":560,"n":0.45},{"p":"4","c":"Diagonal","lo":560,"hi":640,"n":0.25},{"p":"4","c":"Diagonal","lo":640,"hi":720,"n":0.1},
            {"p":"4","c":"Ipsilateral","lo":310,"hi":380,"n":0.3},{"p":"4","c":"Ipsilateral","lo":380,"hi":440,"n":0.55},{"p":"4","c":"Ipsilateral","lo":440,"hi":500,"n":0.6},{"p":"4","c":"Ipsilateral","lo":500,"hi":560,"n":0.45},{"p":"4","c":"Ipsilateral","lo":560,"hi":640,"n":0.25},{"p":"4","c":"Ipsilateral","lo":640,"hi":720,"n":0.1}
          ]},
          "encoding": {
            "x": {"field": "p", "type": "ordinal", "scale": {"domain": ["1", "2", "3", "4"], "range": [426, 642], "paddingInner": 0.2, "paddingOuter": 0.23},
              "axis": {"orient": "bottom", "offset": -23, "labelAngle": 0, "tickSize": 3, "labelPadding": 1, "labelFontSize": 7, "labelFontWeight": "bold", "labelColor": "#444", "title": "PAS", "titleFontSize": 12, "titleY": 20, "titleBaseline": "alphabetic", "domainWidth": 1.5, "domainColor": "#999"}},
            "xOffset": {"field": "c", "type": "nominal", "scale": {"domain": ["Contralateral", "Diagonal", "Ipsilateral", "Single unmasked"], "paddingInner": 0.05, "paddingOuter": 0}},
            "y": {"field": "lo", "type": "quantitative", "scale": {"domain": [79.5, 3016.7], "range": [830, 479], "nice": false, "zero": false},
              "axis": {"orient": "left", "offset": -426, "values": [1000, 2000, 3000], "format": "d", "tickSize": 3, "labelPadding": 1, "labelFontSize": 7, "labelFontWeight": "bold", "labelColor": "#444", "title": "Reaction time in ms", "titleFontSize": 8.5, "titlePadding": 1, "domainWidth": 1.5, "domainColor": "#999"}},
            "y2": {"field": "hi"},
            "size": {"field": "n", "type": "quantitative", "scale": {"domain": [0, 1], "range": [0, 25]}, "legend": null}
          },
          "layer": [
            {"mark": {"type": "bar", "fill": "#a8a2a2", "opacity": 0.55}},
            {
              "mark": {"type": "bar", "opacity": 0.16},
              "encoding": {"fill": {"field": "c", "type": "nominal", "scale": {"domain": ["Contralateral", "Diagonal", "Ipsilateral", "Single unmasked"], "range": ["#E8505A", "#22B022", "#B84FD8", "#4A9FD8"]}, "legend": null}}
            }
          ]
        },
        {
          "data": {"values": [
            {"p":"1","c":"Contralateral","wlo":280,"q1":429,"med":490,"q3":568,"whi":775},
            {"p":"1","c":"Diagonal","wlo":265,"q1":410,"med":476,"q3":549,"whi":760},
            {"p":"1","c":"Ipsilateral","wlo":270,"q1":415,"med":485,"q3":577,"whi":800},
            {"p":"1","c":"Single unmasked","wlo":275,"q1":410,"med":465,"q3":555,"whi":770},
            {"p":"2","c":"Contralateral","wlo":255,"q1":401,"med":476,"q3":540,"whi":750},
            {"p":"2","c":"Diagonal","wlo":255,"q1":401,"med":465,"q3":540,"whi":750},
            {"p":"2","c":"Ipsilateral","wlo":270,"q1":421,"med":482,"q3":549,"whi":740},
            {"p":"2","c":"Single unmasked","wlo":300,"q1":463,"med":526,"q3":624,"whi":860},
            {"p":"3","c":"Contralateral","wlo":300,"q1":410,"med":454,"q3":510,"whi":660},
            {"p":"3","c":"Diagonal","wlo":280,"q1":410,"med":465,"q3":538,"whi":720},
            {"p":"3","c":"Ipsilateral","wlo":290,"q1":410,"med":490,"q3":555,"whi":770},
            {"p":"3","c":"Single unmasked","wlo":276,"q1":438,"med":515,"q3":618,"whi":805},
            {"p":"4","c":"Contralateral","wlo":330,"q1":426,"med":457,"q3":507,"whi":625},
            {"p":"4","c":"Diagonal","wlo":340,"q1":426,"med":468,"q3":513,"whi":640},
            {"p":"4","c":"Ipsilateral","wlo":340,"q1":413,"med":454,"q3":499,"whi":620},
            {"p":"4","c":"Single unmasked","wlo":438,"q1":438,"med":438,"q3":438,"whi":438}
          ]},
          "layer": [
            {
              "mark": {"type": "rule", "stroke": "#333", "strokeWidth": 0.8},
              "encoding": {"x": {"field": "p", "type": "ordinal"}, "xOffset": {"field": "c", "type": "nominal"}, "y": {"field": "wlo", "type": "quantitative"}, "y2": {"field": "whi"}}
            },
            {
              "mark": {"type": "bar", "stroke": "#333", "strokeWidth": 0.7, "fillOpacity": 0.82},
              "encoding": {
                "x": {"field": "p", "type": "ordinal"},
                "xOffset": {"field": "c", "type": "nominal"},
                "y": {"field": "q1", "type": "quantitative"},
                "y2": {"field": "q3"},
                "fill": {"field": "c", "type": "nominal", "scale": {"domain": ["Contralateral", "Diagonal", "Ipsilateral", "Single unmasked"], "range": ["#E8505A", "#22B022", "#B84FD8", "#4A9FD8"]},
                  "legend": {"title": "Conditions", "titleFontSize": 10, "titlePadding": 7, "orient": "none", "legendX": 634, "legendY": 616, "padding": 0, "symbolType": "M-1.6,-1H1.6V1H-1.6Z", "symbolSize": 49, "symbolStrokeColor": "#555", "symbolStrokeWidth": 0.6, "symbolOpacity": 1, "labelFontSize": 7.3, "labelOffset": 8.6, "rowPadding": 5}}
              }
            },
            {
              "mark": {"type": "tick", "orient": "horizontal", "size": 10, "thickness": 1.5, "color": "#111"},
              "encoding": {"x": {"field": "p", "type": "ordinal"}, "xOffset": {"field": "c", "type": "nominal"}, "y": {"field": "med", "type": "quantitative"}}
            }
          ]
        },
        {
          "data": {"values": [
            {"p":"1","c":"Contralateral","rt":2500},{"p":"1","c":"Contralateral","rt":1786},{"p":"1","c":"Contralateral","rt":1505},{"p":"1","c":"Contralateral","rt":1339},{"p":"1","c":"Contralateral","rt":1264},{"p":"1","c":"Contralateral","rt":1194},{"p":"1","c":"Contralateral","rt":1167},{"p":"1","c":"Contralateral","rt":1111},{"p":"1","c":"Contralateral","rt":1028},{"p":"1","c":"Contralateral","rt":972},{"p":"1","c":"Contralateral","rt":944},{"p":"1","c":"Contralateral","rt":915},{"p":"1","c":"Contralateral","rt":890},{"p":"1","c":"Contralateral","rt":865},{"p":"1","c":"Contralateral","rt":840},{"p":"1","c":"Contralateral","rt":815},{"p":"1","c":"Contralateral","rt":795},
            {"p":"1","c":"Diagonal","rt":2311},{"p":"1","c":"Diagonal","rt":1881},{"p":"1","c":"Diagonal","rt":1833},{"p":"1","c":"Diagonal","rt":1611},{"p":"1","c":"Diagonal","rt":1514},{"p":"1","c":"Diagonal","rt":1264},{"p":"1","c":"Diagonal","rt":1200},{"p":"1","c":"Diagonal","rt":1006},{"p":"1","c":"Diagonal","rt":972},{"p":"1","c":"Diagonal","rt":940},{"p":"1","c":"Diagonal","rt":905},{"p":"1","c":"Diagonal","rt":875},{"p":"1","c":"Diagonal","rt":850},{"p":"1","c":"Diagonal","rt":825},{"p":"1","c":"Diagonal","rt":800},{"p":"1","c":"Diagonal","rt":780},
            {"p":"1","c":"Ipsilateral","rt":2828},{"p":"1","c":"Ipsilateral","rt":2728},{"p":"1","c":"Ipsilateral","rt":2631},{"p":"1","c":"Ipsilateral","rt":2500},{"p":"1","c":"Ipsilateral","rt":2422},{"p":"1","c":"Ipsilateral","rt":2242},{"p":"1","c":"Ipsilateral","rt":1939},{"p":"1","c":"Ipsilateral","rt":1444},{"p":"1","c":"Ipsilateral","rt":1417},{"p":"1","c":"Ipsilateral","rt":1339},{"p":"1","c":"Ipsilateral","rt":1264},{"p":"1","c":"Ipsilateral","rt":1033},{"p":"1","c":"Ipsilateral","rt":990},{"p":"1","c":"Ipsilateral","rt":955},{"p":"1","c":"Ipsilateral","rt":920},{"p":"1","c":"Ipsilateral","rt":890},{"p":"1","c":"Ipsilateral","rt":860},{"p":"1","c":"Ipsilateral","rt":835},{"p":"1","c":"Ipsilateral","rt":815},
            {"p":"1","c":"Single unmasked","rt":2875},{"p":"1","c":"Single unmasked","rt":2589},{"p":"1","c":"Single unmasked","rt":2508},{"p":"1","c":"Single unmasked","rt":2464},{"p":"1","c":"Single unmasked","rt":2161},{"p":"1","c":"Single unmasked","rt":2036},{"p":"1","c":"Single unmasked","rt":1861},{"p":"1","c":"Single unmasked","rt":1847},{"p":"1","c":"Single unmasked","rt":1625},{"p":"1","c":"Single unmasked","rt":1542},{"p":"1","c":"Single unmasked","rt":1444},{"p":"1","c":"Single unmasked","rt":1422},{"p":"1","c":"Single unmasked","rt":1333},{"p":"1","c":"Single unmasked","rt":1264},{"p":"1","c":"Single unmasked","rt":1230},{"p":"1","c":"Single unmasked","rt":1200},{"p":"1","c":"Single unmasked","rt":1170},{"p":"1","c":"Single unmasked","rt":1140},{"p":"1","c":"Single unmasked","rt":1110},{"p":"1","c":"Single unmasked","rt":1080},{"p":"1","c":"Single unmasked","rt":1050},{"p":"1","c":"Single unmasked","rt":1020},{"p":"1","c":"Single unmasked","rt":990},{"p":"1","c":"Single unmasked","rt":960},{"p":"1","c":"Single unmasked","rt":930},{"p":"1","c":"Single unmasked","rt":900},{"p":"1","c":"Single unmasked","rt":870},{"p":"1","c":"Single unmasked","rt":840},{"p":"1","c":"Single unmasked","rt":810},{"p":"1","c":"Single unmasked","rt":785},
            {"p":"2","c":"Contralateral","rt":2903},{"p":"2","c":"Contralateral","rt":2328},{"p":"2","c":"Contralateral","rt":1903},{"p":"2","c":"Contralateral","rt":1694},{"p":"2","c":"Contralateral","rt":1486},{"p":"2","c":"Contralateral","rt":1328},{"p":"2","c":"Contralateral","rt":1264},{"p":"2","c":"Contralateral","rt":1194},{"p":"2","c":"Contralateral","rt":1139},{"p":"2","c":"Contralateral","rt":1083},{"p":"2","c":"Contralateral","rt":1030},{"p":"2","c":"Contralateral","rt":990},{"p":"2","c":"Contralateral","rt":950},{"p":"2","c":"Contralateral","rt":915},{"p":"2","c":"Contralateral","rt":880},{"p":"2","c":"Contralateral","rt":850},{"p":"2","c":"Contralateral","rt":820},{"p":"2","c":"Contralateral","rt":790},{"p":"2","c":"Contralateral","rt":765},
            {"p":"2","c":"Diagonal","rt":2631},{"p":"2","c":"Diagonal","rt":1431},{"p":"2","c":"Diagonal","rt":1311},{"p":"2","c":"Diagonal","rt":1244},{"p":"2","c":"Diagonal","rt":1139},{"p":"2","c":"Diagonal","rt":1000},{"p":"2","c":"Diagonal","rt":960},{"p":"2","c":"Diagonal","rt":920},{"p":"2","c":"Diagonal","rt":880},{"p":"2","c":"Diagonal","rt":845},{"p":"2","c":"Diagonal","rt":810},{"p":"2","c":"Diagonal","rt":780},
            {"p":"2","c":"Ipsilateral","rt":2778},{"p":"2","c":"Ipsilateral","rt":2172},{"p":"2","c":"Ipsilateral","rt":2103},{"p":"2","c":"Ipsilateral","rt":1939},{"p":"2","c":"Ipsilateral","rt":1869},{"p":"2","c":"Ipsilateral","rt":1792},{"p":"2","c":"Ipsilateral","rt":1728},{"p":"2","c":"Ipsilateral","rt":1625},{"p":"2","c":"Ipsilateral","rt":1464},{"p":"2","c":"Ipsilateral","rt":1394},{"p":"2","c":"Ipsilateral","rt":1264},{"p":"2","c":"Ipsilateral","rt":1153},{"p":"2","c":"Ipsilateral","rt":1111},{"p":"2","c":"Ipsilateral","rt":1028},{"p":"2","c":"Ipsilateral","rt":985},{"p":"2","c":"Ipsilateral","rt":945},{"p":"2","c":"Ipsilateral","rt":905},{"p":"2","c":"Ipsilateral","rt":870},{"p":"2","c":"Ipsilateral","rt":835},{"p":"2","c":"Ipsilateral","rt":800},{"p":"2","c":"Ipsilateral","rt":770},
            {"p":"2","c":"Single unmasked","rt":2389},{"p":"2","c":"Single unmasked","rt":1272},{"p":"2","c":"Single unmasked","rt":1208},{"p":"2","c":"Single unmasked","rt":1133},{"p":"2","c":"Single unmasked","rt":1042},{"p":"2","c":"Single unmasked","rt":986},{"p":"2","c":"Single unmasked","rt":930},{"p":"2","c":"Single unmasked","rt":890},
            {"p":"3","c":"Contralateral","rt":978},{"p":"3","c":"Contralateral","rt":917},{"p":"3","c":"Contralateral","rt":875},{"p":"3","c":"Contralateral","rt":819},{"p":"3","c":"Contralateral","rt":736},{"p":"3","c":"Contralateral","rt":708},{"p":"3","c":"Contralateral","rt":680},
            {"p":"3","c":"Diagonal","rt":2042},{"p":"3","c":"Diagonal","rt":1075},{"p":"3","c":"Diagonal","rt":853},{"p":"3","c":"Diagonal","rt":806},{"p":"3","c":"Diagonal","rt":764},{"p":"3","c":"Diagonal","rt":742},{"p":"3","c":"Diagonal","rt":722},
            {"p":"3","c":"Ipsilateral","rt":1111},{"p":"3","c":"Ipsilateral","rt":861},{"p":"3","c":"Ipsilateral","rt":819},{"p":"3","c":"Ipsilateral","rt":790},
            {"p":"3","c":"Single unmasked","rt":2297},{"p":"3","c":"Single unmasked","rt":2000},
            {"p":"4","c":"Contralateral","rt":917},{"p":"4","c":"Contralateral","rt":811},{"p":"4","c":"Contralateral","rt":764},{"p":"4","c":"Contralateral","rt":717},{"p":"4","c":"Contralateral","rt":690},{"p":"4","c":"Contralateral","rt":672},{"p":"4","c":"Contralateral","rt":639},
            {"p":"4","c":"Diagonal","rt":889},{"p":"4","c":"Diagonal","rt":758},{"p":"4","c":"Diagonal","rt":740},{"p":"4","c":"Diagonal","rt":722},{"p":"4","c":"Diagonal","rt":700},{"p":"4","c":"Diagonal","rt":680},{"p":"4","c":"Diagonal","rt":660},
            {"p":"4","c":"Ipsilateral","rt":722},{"p":"4","c":"Ipsilateral","rt":694},{"p":"4","c":"Ipsilateral","rt":661},{"p":"4","c":"Ipsilateral","rt":640}
          ]},
          "mark": {"type": "point", "filled": true, "size": 9, "color": "#222", "opacity": 1},
          "encoding": {"x": {"field": "p", "type": "ordinal"}, "xOffset": {"field": "c", "type": "nominal"}, "y": {"field": "rt", "type": "quantitative"}}
        }
      ]
    }
  ]
}
